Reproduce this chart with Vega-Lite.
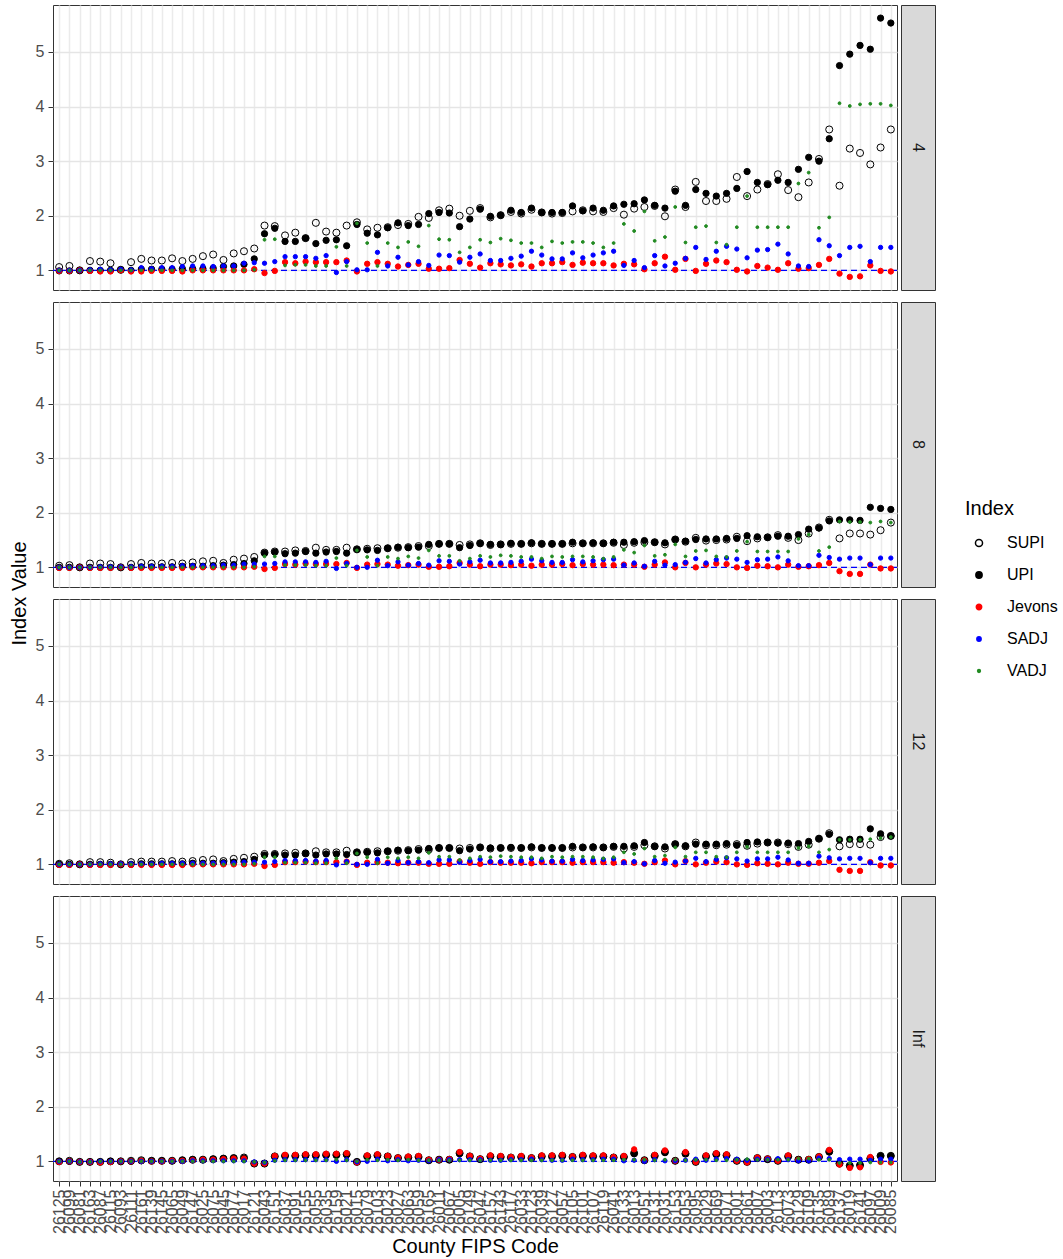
{
  "$schema": "https://vega.github.io/schema/vega-lite/v6.json",
  "padding": {"left": 8, "top": 4, "right": 5, "bottom": 1},
  "background": "white",
  "spacing": 0,
  "config": {
    "font": "Liberation Sans",
    "view": {"stroke": "#333333", "strokeWidth": 1},
    "axis": {"labelFont": "Liberation Sans", "titleFont": "Liberation Sans", "titleFontWeight": "normal", "titleColor": "black", "labelColor": "#4d4d4d", "tickColor": "#333333", "domain": false, "labelFontSize": 16, "titleFontSize": 20},
    "legend": {"labelFont": "Liberation Sans", "titleFont": "Liberation Sans"}
  },
  "datasets": {
    "idx": [
      {"c":"26125","h":"4","SUPI":1.06,"UPI":0.99,"Jevons":0.99,"SADJ":1.0,"VADJ":1.0},
      {"c":"26099","h":"4","SUPI":1.08,"UPI":0.99,"Jevons":0.99,"SADJ":1.0,"VADJ":1.0},
      {"c":"26081","h":"4","SUPI":1.0,"UPI":1.0,"Jevons":1.0,"SADJ":1.0,"VADJ":1.0},
      {"c":"26163","h":"4","SUPI":1.17,"UPI":1.0,"Jevons":0.99,"SADJ":1.01,"VADJ":1.0},
      {"c":"26087","h":"4","SUPI":1.16,"UPI":1.0,"Jevons":0.98,"SADJ":1.02,"VADJ":1.0},
      {"c":"26115","h":"4","SUPI":1.13,"UPI":1.0,"Jevons":0.98,"SADJ":1.01,"VADJ":1.0},
      {"c":"26093","h":"4","SUPI":1.01,"UPI":1.01,"Jevons":1.0,"SADJ":1.02,"VADJ":1.0},
      {"c":"26111","h":"4","SUPI":1.15,"UPI":1.0,"Jevons":0.98,"SADJ":1.01,"VADJ":1.0},
      {"c":"26161","h":"4","SUPI":1.21,"UPI":1.02,"Jevons":0.98,"SADJ":1.05,"VADJ":1.0},
      {"c":"26139","h":"4","SUPI":1.18,"UPI":1.02,"Jevons":0.99,"SADJ":1.03,"VADJ":1.0},
      {"c":"26145","h":"4","SUPI":1.18,"UPI":1.02,"Jevons":0.99,"SADJ":1.05,"VADJ":1.0},
      {"c":"26065","h":"4","SUPI":1.22,"UPI":1.02,"Jevons":0.99,"SADJ":1.05,"VADJ":1.0},
      {"c":"26049","h":"4","SUPI":1.17,"UPI":1.03,"Jevons":0.98,"SADJ":1.07,"VADJ":1.0},
      {"c":"26147","h":"4","SUPI":1.21,"UPI":1.03,"Jevons":1.0,"SADJ":1.08,"VADJ":1.0},
      {"c":"26025","h":"4","SUPI":1.26,"UPI":1.03,"Jevons":1.0,"SADJ":1.08,"VADJ":1.0},
      {"c":"26075","h":"4","SUPI":1.29,"UPI":1.04,"Jevons":1.0,"SADJ":1.07,"VADJ":1.0},
      {"c":"26045","h":"4","SUPI":1.19,"UPI":1.07,"Jevons":1.0,"SADJ":1.08,"VADJ":1.0},
      {"c":"26077","h":"4","SUPI":1.31,"UPI":1.08,"Jevons":1.0,"SADJ":1.08,"VADJ":1.0},
      {"c":"26017","h":"4","SUPI":1.35,"UPI":1.11,"Jevons":1.0,"SADJ":1.13,"VADJ":1.0},
      {"c":"26121","h":"4","SUPI":1.4,"UPI":1.21,"Jevons":1.02,"SADJ":1.14,"VADJ":1.01},
      {"c":"26043","h":"4","SUPI":1.82,"UPI":1.67,"Jevons":0.95,"SADJ":1.13,"VADJ":1.56},
      {"c":"26151","h":"4","SUPI":1.81,"UPI":1.77,"Jevons":0.99,"SADJ":1.16,"VADJ":1.57},
      {"c":"26037","h":"4","SUPI":1.64,"UPI":1.53,"Jevons":1.15,"SADJ":1.25,"VADJ":1.09},
      {"c":"26091","h":"4","SUPI":1.69,"UPI":1.53,"Jevons":1.13,"SADJ":1.25,"VADJ":1.1},
      {"c":"26155","h":"4","SUPI":1.59,"UPI":1.59,"Jevons":1.16,"SADJ":1.25,"VADJ":1.1},
      {"c":"26055","h":"4","SUPI":1.87,"UPI":1.49,"Jevons":1.15,"SADJ":1.22,"VADJ":1.08},
      {"c":"26035","h":"4","SUPI":1.71,"UPI":1.55,"Jevons":1.15,"SADJ":1.27,"VADJ":1.08},
      {"c":"26159","h":"4","SUPI":1.69,"UPI":1.56,"Jevons":1.15,"SADJ":0.96,"VADJ":1.43},
      {"c":"26021","h":"4","SUPI":1.82,"UPI":1.45,"Jevons":1.18,"SADJ":1.16,"VADJ":1.08},
      {"c":"26015","h":"4","SUPI":1.88,"UPI":1.84,"Jevons":0.98,"SADJ":1.01,"VADJ":1.86},
      {"c":"26079","h":"4","SUPI":1.75,"UPI":1.68,"Jevons":1.12,"SADJ":1.01,"VADJ":1.5},
      {"c":"26103","h":"4","SUPI":1.78,"UPI":1.65,"Jevons":1.15,"SADJ":1.33,"VADJ":1.08},
      {"c":"26023","h":"4","SUPI":1.79,"UPI":1.78,"Jevons":1.12,"SADJ":1.08,"VADJ":1.5},
      {"c":"26027","h":"4","SUPI":1.83,"UPI":1.87,"Jevons":1.07,"SADJ":1.24,"VADJ":1.42},
      {"c":"26063","h":"4","SUPI":1.85,"UPI":1.82,"Jevons":1.1,"SADJ":1.1,"VADJ":1.52},
      {"c":"26059","h":"4","SUPI":1.98,"UPI":1.84,"Jevons":1.12,"SADJ":1.16,"VADJ":1.44},
      {"c":"26165","h":"4","SUPI":1.96,"UPI":2.04,"Jevons":1.03,"SADJ":1.09,"VADJ":1.82},
      {"c":"26011","h":"4","SUPI":2.1,"UPI":2.06,"Jevons":1.03,"SADJ":1.28,"VADJ":1.57},
      {"c":"26067","h":"4","SUPI":2.13,"UPI":2.05,"Jevons":1.04,"SADJ":1.27,"VADJ":1.56},
      {"c":"26005","h":"4","SUPI":2.0,"UPI":1.8,"Jevons":1.19,"SADJ":1.15,"VADJ":1.33},
      {"c":"26149","h":"4","SUPI":2.09,"UPI":1.94,"Jevons":1.12,"SADJ":1.24,"VADJ":1.42},
      {"c":"26047","h":"4","SUPI":2.14,"UPI":2.12,"Jevons":1.05,"SADJ":1.3,"VADJ":1.56},
      {"c":"26157","h":"4","SUPI":1.97,"UPI":1.99,"Jevons":1.13,"SADJ":1.18,"VADJ":1.51},
      {"c":"26143","h":"4","SUPI":2.01,"UPI":2.01,"Jevons":1.11,"SADJ":1.18,"VADJ":1.58},
      {"c":"26117","h":"4","SUPI":2.07,"UPI":2.1,"Jevons":1.09,"SADJ":1.22,"VADJ":1.55},
      {"c":"26033","h":"4","SUPI":2.04,"UPI":2.06,"Jevons":1.11,"SADJ":1.26,"VADJ":1.5},
      {"c":"26123","h":"4","SUPI":2.11,"UPI":2.14,"Jevons":1.07,"SADJ":1.35,"VADJ":1.5},
      {"c":"26039","h":"4","SUPI":2.06,"UPI":2.06,"Jevons":1.13,"SADJ":1.28,"VADJ":1.42},
      {"c":"26127","h":"4","SUPI":2.04,"UPI":2.06,"Jevons":1.13,"SADJ":1.21,"VADJ":1.53},
      {"c":"26057","h":"4","SUPI":2.05,"UPI":2.06,"Jevons":1.15,"SADJ":1.21,"VADJ":1.5},
      {"c":"26105","h":"4","SUPI":2.08,"UPI":2.18,"Jevons":1.1,"SADJ":1.32,"VADJ":1.52},
      {"c":"26101","h":"4","SUPI":2.1,"UPI":2.09,"Jevons":1.14,"SADJ":1.23,"VADJ":1.52},
      {"c":"26107","h":"4","SUPI":2.08,"UPI":2.14,"Jevons":1.13,"SADJ":1.28,"VADJ":1.5},
      {"c":"26119","h":"4","SUPI":2.07,"UPI":2.1,"Jevons":1.13,"SADJ":1.32,"VADJ":1.42},
      {"c":"26041","h":"4","SUPI":2.14,"UPI":2.18,"Jevons":1.09,"SADJ":1.35,"VADJ":1.5},
      {"c":"26133","h":"4","SUPI":2.02,"UPI":2.21,"Jevons":1.12,"SADJ":1.09,"VADJ":1.85},
      {"c":"26013","h":"4","SUPI":2.13,"UPI":2.22,"Jevons":1.11,"SADJ":1.18,"VADJ":1.72},
      {"c":"26051","h":"4","SUPI":2.16,"UPI":2.29,"Jevons":1.02,"SADJ":1.05,"VADJ":2.08},
      {"c":"26131","h":"4","SUPI":2.18,"UPI":2.19,"Jevons":1.13,"SADJ":1.27,"VADJ":1.54},
      {"c":"26031","h":"4","SUPI":1.99,"UPI":2.14,"Jevons":1.25,"SADJ":1.08,"VADJ":1.61},
      {"c":"26153","h":"4","SUPI":2.48,"UPI":2.45,"Jevons":1.01,"SADJ":1.13,"VADJ":2.16},
      {"c":"26053","h":"4","SUPI":2.16,"UPI":2.19,"Jevons":1.21,"SADJ":1.22,"VADJ":1.51},
      {"c":"26095","h":"4","SUPI":2.62,"UPI":2.48,"Jevons":0.99,"SADJ":1.42,"VADJ":1.79},
      {"c":"26029","h":"4","SUPI":2.27,"UPI":2.41,"Jevons":1.12,"SADJ":1.2,"VADJ":1.81},
      {"c":"26069","h":"4","SUPI":2.27,"UPI":2.36,"Jevons":1.18,"SADJ":1.35,"VADJ":1.51},
      {"c":"26071","h":"4","SUPI":2.31,"UPI":2.41,"Jevons":1.15,"SADJ":1.44,"VADJ":1.47},
      {"c":"26001","h":"4","SUPI":2.71,"UPI":2.5,"Jevons":1.01,"SADJ":1.39,"VADJ":1.79},
      {"c":"26061","h":"4","SUPI":2.36,"UPI":2.81,"Jevons":0.98,"SADJ":1.23,"VADJ":2.36},
      {"c":"26007","h":"4","SUPI":2.48,"UPI":2.61,"Jevons":1.08,"SADJ":1.37,"VADJ":1.79},
      {"c":"26003","h":"4","SUPI":2.58,"UPI":2.57,"Jevons":1.05,"SADJ":1.38,"VADJ":1.79},
      {"c":"26113","h":"4","SUPI":2.76,"UPI":2.65,"Jevons":1.01,"SADJ":1.48,"VADJ":1.79},
      {"c":"26073","h":"4","SUPI":2.47,"UPI":2.61,"Jevons":1.13,"SADJ":1.3,"VADJ":1.79},
      {"c":"26129","h":"4","SUPI":2.34,"UPI":2.85,"Jevons":1.03,"SADJ":1.08,"VADJ":2.59},
      {"c":"26109","h":"4","SUPI":2.61,"UPI":3.07,"Jevons":1.04,"SADJ":1.07,"VADJ":2.79},
      {"c":"26135","h":"4","SUPI":3.04,"UPI":3.0,"Jevons":1.1,"SADJ":1.56,"VADJ":1.78},
      {"c":"26089","h":"4","SUPI":3.58,"UPI":3.41,"Jevons":1.21,"SADJ":1.45,"VADJ":1.97},
      {"c":"26137","h":"4","SUPI":2.55,"UPI":4.75,"Jevons":0.94,"SADJ":1.27,"VADJ":4.06},
      {"c":"26019","h":"4","SUPI":3.23,"UPI":4.96,"Jevons":0.88,"SADJ":1.42,"VADJ":4.01},
      {"c":"26141","h":"4","SUPI":3.15,"UPI":5.12,"Jevons":0.89,"SADJ":1.44,"VADJ":4.04},
      {"c":"26097","h":"4","SUPI":2.94,"UPI":5.05,"Jevons":1.09,"SADJ":1.16,"VADJ":4.05},
      {"c":"26009","h":"4","SUPI":3.25,"UPI":5.62,"Jevons":0.99,"SADJ":1.42,"VADJ":4.05},
      {"c":"26085","h":"4","SUPI":3.58,"UPI":5.53,"Jevons":0.98,"SADJ":1.42,"VADJ":4.02},

      {"c":"26125","h":"8","SUPI":1.03,"UPI":1.0,"Jevons":0.99,"SADJ":1.0,"VADJ":1.0},
      {"c":"26099","h":"8","SUPI":1.04,"UPI":1.0,"Jevons":0.99,"SADJ":1.0,"VADJ":1.0},
      {"c":"26081","h":"8","SUPI":1.0,"UPI":1.0,"Jevons":1.0,"SADJ":1.0,"VADJ":1.0},
      {"c":"26163","h":"8","SUPI":1.07,"UPI":1.0,"Jevons":0.99,"SADJ":1.0,"VADJ":1.0},
      {"c":"26087","h":"8","SUPI":1.07,"UPI":1.0,"Jevons":0.99,"SADJ":1.01,"VADJ":1.0},
      {"c":"26115","h":"8","SUPI":1.06,"UPI":1.0,"Jevons":0.99,"SADJ":1.01,"VADJ":1.0},
      {"c":"26093","h":"8","SUPI":1.0,"UPI":1.0,"Jevons":1.0,"SADJ":1.01,"VADJ":1.0},
      {"c":"26111","h":"8","SUPI":1.06,"UPI":1.0,"Jevons":0.99,"SADJ":1.01,"VADJ":1.0},
      {"c":"26161","h":"8","SUPI":1.08,"UPI":1.01,"Jevons":0.99,"SADJ":1.02,"VADJ":1.0},
      {"c":"26139","h":"8","SUPI":1.07,"UPI":1.01,"Jevons":0.99,"SADJ":1.02,"VADJ":1.0},
      {"c":"26145","h":"8","SUPI":1.07,"UPI":1.01,"Jevons":0.99,"SADJ":1.02,"VADJ":1.0},
      {"c":"26065","h":"8","SUPI":1.08,"UPI":1.01,"Jevons":0.99,"SADJ":1.02,"VADJ":1.0},
      {"c":"26049","h":"8","SUPI":1.07,"UPI":1.02,"Jevons":0.99,"SADJ":1.03,"VADJ":1.0},
      {"c":"26147","h":"8","SUPI":1.09,"UPI":1.02,"Jevons":1.0,"SADJ":1.03,"VADJ":1.0},
      {"c":"26025","h":"8","SUPI":1.11,"UPI":1.02,"Jevons":1.0,"SADJ":1.03,"VADJ":1.0},
      {"c":"26075","h":"8","SUPI":1.12,"UPI":1.03,"Jevons":1.0,"SADJ":1.03,"VADJ":1.0},
      {"c":"26045","h":"8","SUPI":1.08,"UPI":1.04,"Jevons":1.0,"SADJ":1.04,"VADJ":1.0},
      {"c":"26077","h":"8","SUPI":1.14,"UPI":1.05,"Jevons":1.0,"SADJ":1.04,"VADJ":1.0},
      {"c":"26017","h":"8","SUPI":1.16,"UPI":1.07,"Jevons":1.0,"SADJ":1.06,"VADJ":1.0},
      {"c":"26121","h":"8","SUPI":1.19,"UPI":1.12,"Jevons":1.01,"SADJ":1.06,"VADJ":1.01},
      {"c":"26043","h":"8","SUPI":1.27,"UPI":1.26,"Jevons":0.97,"SADJ":1.06,"VADJ":1.2},
      {"c":"26151","h":"8","SUPI":1.29,"UPI":1.28,"Jevons":0.99,"SADJ":1.07,"VADJ":1.2},
      {"c":"26037","h":"8","SUPI":1.29,"UPI":1.25,"Jevons":1.06,"SADJ":1.1,"VADJ":1.04},
      {"c":"26091","h":"8","SUPI":1.31,"UPI":1.26,"Jevons":1.05,"SADJ":1.1,"VADJ":1.04},
      {"c":"26155","h":"8","SUPI":1.3,"UPI":1.29,"Jevons":1.07,"SADJ":1.1,"VADJ":1.04},
      {"c":"26055","h":"8","SUPI":1.36,"UPI":1.26,"Jevons":1.06,"SADJ":1.09,"VADJ":1.03},
      {"c":"26035","h":"8","SUPI":1.32,"UPI":1.28,"Jevons":1.06,"SADJ":1.11,"VADJ":1.03},
      {"c":"26159","h":"8","SUPI":1.32,"UPI":1.29,"Jevons":1.06,"SADJ":0.98,"VADJ":1.17},
      {"c":"26021","h":"8","SUPI":1.36,"UPI":1.26,"Jevons":1.08,"SADJ":1.07,"VADJ":1.03},
      {"c":"26015","h":"8","SUPI":1.33,"UPI":1.33,"Jevons":0.99,"SADJ":1.0,"VADJ":1.31},
      {"c":"26079","h":"8","SUPI":1.34,"UPI":1.32,"Jevons":1.05,"SADJ":1.0,"VADJ":1.19},
      {"c":"26103","h":"8","SUPI":1.35,"UPI":1.31,"Jevons":1.06,"SADJ":1.13,"VADJ":1.03},
      {"c":"26023","h":"8","SUPI":1.35,"UPI":1.35,"Jevons":1.05,"SADJ":1.03,"VADJ":1.19},
      {"c":"26027","h":"8","SUPI":1.36,"UPI":1.37,"Jevons":1.03,"SADJ":1.1,"VADJ":1.16},
      {"c":"26063","h":"8","SUPI":1.37,"UPI":1.36,"Jevons":1.04,"SADJ":1.04,"VADJ":1.2},
      {"c":"26059","h":"8","SUPI":1.39,"UPI":1.37,"Jevons":1.05,"SADJ":1.07,"VADJ":1.17},
      {"c":"26165","h":"8","SUPI":1.39,"UPI":1.42,"Jevons":1.01,"SADJ":1.04,"VADJ":1.31},
      {"c":"26011","h":"8","SUPI":1.43,"UPI":1.43,"Jevons":1.01,"SADJ":1.12,"VADJ":1.21},
      {"c":"26067","h":"8","SUPI":1.43,"UPI":1.43,"Jevons":1.02,"SADJ":1.11,"VADJ":1.21},
      {"c":"26005","h":"8","SUPI":1.41,"UPI":1.36,"Jevons":1.08,"SADJ":1.06,"VADJ":1.12},
      {"c":"26149","h":"8","SUPI":1.42,"UPI":1.4,"Jevons":1.05,"SADJ":1.1,"VADJ":1.16},
      {"c":"26047","h":"8","SUPI":1.44,"UPI":1.44,"Jevons":1.02,"SADJ":1.13,"VADJ":1.21},
      {"c":"26157","h":"8","SUPI":1.41,"UPI":1.42,"Jevons":1.05,"SADJ":1.08,"VADJ":1.19},
      {"c":"26143","h":"8","SUPI":1.42,"UPI":1.42,"Jevons":1.05,"SADJ":1.08,"VADJ":1.22},
      {"c":"26117","h":"8","SUPI":1.43,"UPI":1.44,"Jevons":1.04,"SADJ":1.09,"VADJ":1.21},
      {"c":"26033","h":"8","SUPI":1.43,"UPI":1.43,"Jevons":1.05,"SADJ":1.11,"VADJ":1.19},
      {"c":"26123","h":"8","SUPI":1.44,"UPI":1.45,"Jevons":1.03,"SADJ":1.15,"VADJ":1.19},
      {"c":"26039","h":"8","SUPI":1.43,"UPI":1.43,"Jevons":1.05,"SADJ":1.12,"VADJ":1.16},
      {"c":"26127","h":"8","SUPI":1.43,"UPI":1.43,"Jevons":1.05,"SADJ":1.09,"VADJ":1.2},
      {"c":"26057","h":"8","SUPI":1.43,"UPI":1.43,"Jevons":1.06,"SADJ":1.09,"VADJ":1.19},
      {"c":"26105","h":"8","SUPI":1.44,"UPI":1.46,"Jevons":1.04,"SADJ":1.14,"VADJ":1.2},
      {"c":"26101","h":"8","SUPI":1.44,"UPI":1.44,"Jevons":1.06,"SADJ":1.1,"VADJ":1.2},
      {"c":"26107","h":"8","SUPI":1.44,"UPI":1.45,"Jevons":1.05,"SADJ":1.12,"VADJ":1.19},
      {"c":"26119","h":"8","SUPI":1.44,"UPI":1.44,"Jevons":1.05,"SADJ":1.14,"VADJ":1.16},
      {"c":"26041","h":"8","SUPI":1.45,"UPI":1.46,"Jevons":1.04,"SADJ":1.15,"VADJ":1.19},
      {"c":"26133","h":"8","SUPI":1.41,"UPI":1.46,"Jevons":1.05,"SADJ":1.04,"VADJ":1.32},
      {"c":"26013","h":"8","SUPI":1.45,"UPI":1.47,"Jevons":1.05,"SADJ":1.08,"VADJ":1.27},
      {"c":"26051","h":"8","SUPI":1.46,"UPI":1.49,"Jevons":1.01,"SADJ":1.02,"VADJ":1.4},
      {"c":"26131","h":"8","SUPI":1.46,"UPI":1.46,"Jevons":1.05,"SADJ":1.11,"VADJ":1.21},
      {"c":"26031","h":"8","SUPI":1.42,"UPI":1.45,"Jevons":1.09,"SADJ":1.04,"VADJ":1.23},
      {"c":"26153","h":"8","SUPI":1.51,"UPI":1.51,"Jevons":1.0,"SADJ":1.05,"VADJ":1.42},
      {"c":"26053","h":"8","SUPI":1.47,"UPI":1.48,"Jevons":1.08,"SADJ":1.09,"VADJ":1.2},
      {"c":"26095","h":"8","SUPI":1.54,"UPI":1.51,"Jevons":1.0,"SADJ":1.16,"VADJ":1.3},
      {"c":"26029","h":"8","SUPI":1.49,"UPI":1.52,"Jevons":1.05,"SADJ":1.08,"VADJ":1.31},
      {"c":"26069","h":"8","SUPI":1.5,"UPI":1.52,"Jevons":1.07,"SADJ":1.14,"VADJ":1.2},
      {"c":"26071","h":"8","SUPI":1.51,"UPI":1.53,"Jevons":1.06,"SADJ":1.17,"VADJ":1.19},
      {"c":"26001","h":"8","SUPI":1.56,"UPI":1.53,"Jevons":1.0,"SADJ":1.15,"VADJ":1.3},
      {"c":"26061","h":"8","SUPI":1.48,"UPI":1.58,"Jevons":0.99,"SADJ":1.09,"VADJ":1.47},
      {"c":"26007","h":"8","SUPI":1.53,"UPI":1.56,"Jevons":1.03,"SADJ":1.14,"VADJ":1.29},
      {"c":"26003","h":"8","SUPI":1.55,"UPI":1.55,"Jevons":1.02,"SADJ":1.15,"VADJ":1.29},
      {"c":"26113","h":"8","SUPI":1.59,"UPI":1.57,"Jevons":1.0,"SADJ":1.19,"VADJ":1.29},
      {"c":"26073","h":"8","SUPI":1.54,"UPI":1.57,"Jevons":1.05,"SADJ":1.12,"VADJ":1.29},
      {"c":"26129","h":"8","SUPI":1.5,"UPI":1.6,"Jevons":1.01,"SADJ":1.03,"VADJ":1.52},
      {"c":"26109","h":"8","SUPI":1.62,"UPI":1.7,"Jevons":1.02,"SADJ":1.03,"VADJ":1.6},
      {"c":"26135","h":"8","SUPI":1.73,"UPI":1.72,"Jevons":1.04,"SADJ":1.22,"VADJ":1.3},
      {"c":"26089","h":"8","SUPI":1.87,"UPI":1.85,"Jevons":1.08,"SADJ":1.18,"VADJ":1.37},
      {"c":"26137","h":"8","SUPI":1.53,"UPI":1.87,"Jevons":0.93,"SADJ":1.15,"VADJ":1.84},
      {"c":"26019","h":"8","SUPI":1.62,"UPI":1.87,"Jevons":0.88,"SADJ":1.17,"VADJ":1.83},
      {"c":"26141","h":"8","SUPI":1.62,"UPI":1.86,"Jevons":0.88,"SADJ":1.17,"VADJ":1.83},
      {"c":"26097","h":"8","SUPI":1.6,"UPI":2.1,"Jevons":1.05,"SADJ":1.05,"VADJ":1.82},
      {"c":"26009","h":"8","SUPI":1.68,"UPI":2.08,"Jevons":0.98,"SADJ":1.17,"VADJ":1.84},
      {"c":"26085","h":"8","SUPI":1.82,"UPI":2.06,"Jevons":0.98,"SADJ":1.17,"VADJ":1.82},

      {"c":"26125","h":"12","SUPI":1.01,"UPI":1.0,"Jevons":0.99,"SADJ":1.0,"VADJ":1.0},
      {"c":"26099","h":"12","SUPI":1.02,"UPI":1.0,"Jevons":0.99,"SADJ":1.0,"VADJ":1.0},
      {"c":"26081","h":"12","SUPI":1.0,"UPI":1.0,"Jevons":1.0,"SADJ":1.0,"VADJ":1.0},
      {"c":"26163","h":"12","SUPI":1.04,"UPI":1.0,"Jevons":0.99,"SADJ":1.0,"VADJ":1.0},
      {"c":"26087","h":"12","SUPI":1.04,"UPI":1.0,"Jevons":0.99,"SADJ":1.01,"VADJ":1.0},
      {"c":"26115","h":"12","SUPI":1.03,"UPI":1.0,"Jevons":0.99,"SADJ":1.01,"VADJ":1.0},
      {"c":"26093","h":"12","SUPI":1.0,"UPI":1.0,"Jevons":1.0,"SADJ":1.01,"VADJ":1.0},
      {"c":"26111","h":"12","SUPI":1.04,"UPI":1.0,"Jevons":0.99,"SADJ":1.01,"VADJ":1.0},
      {"c":"26161","h":"12","SUPI":1.05,"UPI":1.01,"Jevons":0.99,"SADJ":1.01,"VADJ":1.0},
      {"c":"26139","h":"12","SUPI":1.05,"UPI":1.01,"Jevons":0.99,"SADJ":1.01,"VADJ":1.0},
      {"c":"26145","h":"12","SUPI":1.05,"UPI":1.01,"Jevons":0.99,"SADJ":1.02,"VADJ":1.0},
      {"c":"26065","h":"12","SUPI":1.06,"UPI":1.01,"Jevons":0.99,"SADJ":1.02,"VADJ":1.0},
      {"c":"26049","h":"12","SUPI":1.05,"UPI":1.01,"Jevons":0.99,"SADJ":1.02,"VADJ":1.0},
      {"c":"26147","h":"12","SUPI":1.06,"UPI":1.02,"Jevons":1.0,"SADJ":1.02,"VADJ":1.0},
      {"c":"26025","h":"12","SUPI":1.08,"UPI":1.02,"Jevons":1.0,"SADJ":1.02,"VADJ":1.0},
      {"c":"26075","h":"12","SUPI":1.09,"UPI":1.02,"Jevons":1.0,"SADJ":1.02,"VADJ":1.0},
      {"c":"26045","h":"12","SUPI":1.06,"UPI":1.03,"Jevons":1.0,"SADJ":1.03,"VADJ":1.0},
      {"c":"26077","h":"12","SUPI":1.1,"UPI":1.04,"Jevons":1.0,"SADJ":1.03,"VADJ":1.0},
      {"c":"26017","h":"12","SUPI":1.12,"UPI":1.05,"Jevons":1.0,"SADJ":1.04,"VADJ":1.0},
      {"c":"26121","h":"12","SUPI":1.14,"UPI":1.09,"Jevons":1.01,"SADJ":1.04,"VADJ":1.01},
      {"c":"26043","h":"12","SUPI":1.19,"UPI":1.17,"Jevons":0.97,"SADJ":1.04,"VADJ":1.13},
      {"c":"26151","h":"12","SUPI":1.19,"UPI":1.18,"Jevons":0.99,"SADJ":1.05,"VADJ":1.13},
      {"c":"26037","h":"12","SUPI":1.2,"UPI":1.17,"Jevons":1.04,"SADJ":1.07,"VADJ":1.03},
      {"c":"26091","h":"12","SUPI":1.21,"UPI":1.17,"Jevons":1.04,"SADJ":1.07,"VADJ":1.03},
      {"c":"26155","h":"12","SUPI":1.2,"UPI":1.2,"Jevons":1.05,"SADJ":1.07,"VADJ":1.03},
      {"c":"26055","h":"12","SUPI":1.24,"UPI":1.17,"Jevons":1.04,"SADJ":1.06,"VADJ":1.02},
      {"c":"26035","h":"12","SUPI":1.22,"UPI":1.19,"Jevons":1.04,"SADJ":1.07,"VADJ":1.02},
      {"c":"26159","h":"12","SUPI":1.22,"UPI":1.19,"Jevons":1.04,"SADJ":0.99,"VADJ":1.11},
      {"c":"26021","h":"12","SUPI":1.25,"UPI":1.18,"Jevons":1.05,"SADJ":1.05,"VADJ":1.02},
      {"c":"26015","h":"12","SUPI":1.22,"UPI":1.22,"Jevons":0.99,"SADJ":1.0,"VADJ":1.2},
      {"c":"26079","h":"12","SUPI":1.23,"UPI":1.22,"Jevons":1.03,"SADJ":1.0,"VADJ":1.13},
      {"c":"26103","h":"12","SUPI":1.24,"UPI":1.21,"Jevons":1.04,"SADJ":1.09,"VADJ":1.02},
      {"c":"26023","h":"12","SUPI":1.24,"UPI":1.24,"Jevons":1.03,"SADJ":1.02,"VADJ":1.13},
      {"c":"26027","h":"12","SUPI":1.25,"UPI":1.26,"Jevons":1.02,"SADJ":1.07,"VADJ":1.11},
      {"c":"26063","h":"12","SUPI":1.26,"UPI":1.25,"Jevons":1.03,"SADJ":1.03,"VADJ":1.13},
      {"c":"26059","h":"12","SUPI":1.28,"UPI":1.26,"Jevons":1.03,"SADJ":1.05,"VADJ":1.11},
      {"c":"26165","h":"12","SUPI":1.27,"UPI":1.29,"Jevons":1.01,"SADJ":1.03,"VADJ":1.21},
      {"c":"26011","h":"12","SUPI":1.3,"UPI":1.3,"Jevons":1.01,"SADJ":1.08,"VADJ":1.14},
      {"c":"26067","h":"12","SUPI":1.3,"UPI":1.3,"Jevons":1.01,"SADJ":1.08,"VADJ":1.14},
      {"c":"26005","h":"12","SUPI":1.29,"UPI":1.25,"Jevons":1.05,"SADJ":1.04,"VADJ":1.08},
      {"c":"26149","h":"12","SUPI":1.3,"UPI":1.28,"Jevons":1.03,"SADJ":1.07,"VADJ":1.11},
      {"c":"26047","h":"12","SUPI":1.31,"UPI":1.31,"Jevons":1.01,"SADJ":1.09,"VADJ":1.14},
      {"c":"26157","h":"12","SUPI":1.29,"UPI":1.3,"Jevons":1.04,"SADJ":1.05,"VADJ":1.13},
      {"c":"26143","h":"12","SUPI":1.3,"UPI":1.3,"Jevons":1.03,"SADJ":1.05,"VADJ":1.15},
      {"c":"26117","h":"12","SUPI":1.3,"UPI":1.31,"Jevons":1.03,"SADJ":1.06,"VADJ":1.14},
      {"c":"26033","h":"12","SUPI":1.3,"UPI":1.3,"Jevons":1.03,"SADJ":1.07,"VADJ":1.13},
      {"c":"26123","h":"12","SUPI":1.31,"UPI":1.32,"Jevons":1.02,"SADJ":1.1,"VADJ":1.13},
      {"c":"26039","h":"12","SUPI":1.3,"UPI":1.3,"Jevons":1.04,"SADJ":1.08,"VADJ":1.11},
      {"c":"26127","h":"12","SUPI":1.3,"UPI":1.3,"Jevons":1.04,"SADJ":1.06,"VADJ":1.14},
      {"c":"26057","h":"12","SUPI":1.3,"UPI":1.3,"Jevons":1.04,"SADJ":1.06,"VADJ":1.13},
      {"c":"26105","h":"12","SUPI":1.31,"UPI":1.33,"Jevons":1.03,"SADJ":1.09,"VADJ":1.14},
      {"c":"26101","h":"12","SUPI":1.31,"UPI":1.31,"Jevons":1.04,"SADJ":1.07,"VADJ":1.14},
      {"c":"26107","h":"12","SUPI":1.31,"UPI":1.32,"Jevons":1.04,"SADJ":1.08,"VADJ":1.13},
      {"c":"26119","h":"12","SUPI":1.31,"UPI":1.31,"Jevons":1.04,"SADJ":1.09,"VADJ":1.11},
      {"c":"26041","h":"12","SUPI":1.32,"UPI":1.33,"Jevons":1.03,"SADJ":1.1,"VADJ":1.13},
      {"c":"26133","h":"12","SUPI":1.29,"UPI":1.33,"Jevons":1.04,"SADJ":1.03,"VADJ":1.22},
      {"c":"26013","h":"12","SUPI":1.32,"UPI":1.34,"Jevons":1.03,"SADJ":1.05,"VADJ":1.19},
      {"c":"26051","h":"12","SUPI":1.35,"UPI":1.4,"Jevons":1.01,"SADJ":1.01,"VADJ":1.29},
      {"c":"26131","h":"12","SUPI":1.33,"UPI":1.33,"Jevons":1.04,"SADJ":1.07,"VADJ":1.14},
      {"c":"26031","h":"12","SUPI":1.29,"UPI":1.32,"Jevons":1.07,"SADJ":1.02,"VADJ":1.16},
      {"c":"26153","h":"12","SUPI":1.37,"UPI":1.37,"Jevons":1.0,"SADJ":1.04,"VADJ":1.31},
      {"c":"26053","h":"12","SUPI":1.33,"UPI":1.34,"Jevons":1.06,"SADJ":1.06,"VADJ":1.14},
      {"c":"26095","h":"12","SUPI":1.4,"UPI":1.37,"Jevons":1.0,"SADJ":1.11,"VADJ":1.22},
      {"c":"26029","h":"12","SUPI":1.35,"UPI":1.37,"Jevons":1.03,"SADJ":1.05,"VADJ":1.22},
      {"c":"26069","h":"12","SUPI":1.35,"UPI":1.37,"Jevons":1.05,"SADJ":1.09,"VADJ":1.14},
      {"c":"26071","h":"12","SUPI":1.36,"UPI":1.38,"Jevons":1.04,"SADJ":1.12,"VADJ":1.13},
      {"c":"26001","h":"12","SUPI":1.37,"UPI":1.35,"Jevons":1.0,"SADJ":1.1,"VADJ":1.22},
      {"c":"26061","h":"12","SUPI":1.34,"UPI":1.4,"Jevons":0.99,"SADJ":1.06,"VADJ":1.32},
      {"c":"26007","h":"12","SUPI":1.38,"UPI":1.41,"Jevons":1.02,"SADJ":1.1,"VADJ":1.22},
      {"c":"26003","h":"12","SUPI":1.4,"UPI":1.4,"Jevons":1.01,"SADJ":1.1,"VADJ":1.22},
      {"c":"26113","h":"12","SUPI":1.4,"UPI":1.39,"Jevons":1.0,"SADJ":1.13,"VADJ":1.22},
      {"c":"26073","h":"12","SUPI":1.37,"UPI":1.39,"Jevons":1.03,"SADJ":1.08,"VADJ":1.22},
      {"c":"26129","h":"12","SUPI":1.32,"UPI":1.38,"Jevons":1.01,"SADJ":1.02,"VADJ":1.3},
      {"c":"26109","h":"12","SUPI":1.36,"UPI":1.42,"Jevons":1.01,"SADJ":1.02,"VADJ":1.33},
      {"c":"26135","h":"12","SUPI":1.47,"UPI":1.47,"Jevons":1.03,"SADJ":1.15,"VADJ":1.22},
      {"c":"26089","h":"12","SUPI":1.57,"UPI":1.55,"Jevons":1.06,"SADJ":1.12,"VADJ":1.27},
      {"c":"26137","h":"12","SUPI":1.33,"UPI":1.45,"Jevons":0.9,"SADJ":1.1,"VADJ":1.45},
      {"c":"26019","h":"12","SUPI":1.37,"UPI":1.46,"Jevons":0.88,"SADJ":1.11,"VADJ":1.45},
      {"c":"26141","h":"12","SUPI":1.37,"UPI":1.46,"Jevons":0.88,"SADJ":1.11,"VADJ":1.45},
      {"c":"26097","h":"12","SUPI":1.36,"UPI":1.65,"Jevons":1.04,"SADJ":1.03,"VADJ":1.46},
      {"c":"26009","h":"12","SUPI":1.5,"UPI":1.56,"Jevons":0.98,"SADJ":1.11,"VADJ":1.48},
      {"c":"26085","h":"12","SUPI":1.52,"UPI":1.52,"Jevons":0.98,"SADJ":1.11,"VADJ":1.5},

      {"c":"26125","h":"Inf","SUPI":1.0,"UPI":1.0,"Jevons":0.99,"SADJ":1.0,"VADJ":1.0},
      {"c":"26099","h":"Inf","SUPI":1.01,"UPI":1.0,"Jevons":1.0,"SADJ":1.0,"VADJ":1.0},
      {"c":"26081","h":"Inf","SUPI":0.99,"UPI":0.99,"Jevons":0.99,"SADJ":0.99,"VADJ":0.99},
      {"c":"26163","h":"Inf","SUPI":0.99,"UPI":0.99,"Jevons":0.99,"SADJ":0.99,"VADJ":0.99},
      {"c":"26087","h":"Inf","SUPI":0.99,"UPI":0.99,"Jevons":0.98,"SADJ":1.0,"VADJ":1.0},
      {"c":"26115","h":"Inf","SUPI":1.0,"UPI":1.0,"Jevons":0.99,"SADJ":1.0,"VADJ":1.0},
      {"c":"26093","h":"Inf","SUPI":1.0,"UPI":1.0,"Jevons":1.0,"SADJ":1.0,"VADJ":1.0},
      {"c":"26111","h":"Inf","SUPI":1.01,"UPI":1.0,"Jevons":1.0,"SADJ":1.0,"VADJ":1.0},
      {"c":"26161","h":"Inf","SUPI":1.02,"UPI":1.01,"Jevons":1.01,"SADJ":1.0,"VADJ":1.0},
      {"c":"26139","h":"Inf","SUPI":1.01,"UPI":1.01,"Jevons":1.0,"SADJ":1.0,"VADJ":1.0},
      {"c":"26145","h":"Inf","SUPI":1.01,"UPI":1.01,"Jevons":1.0,"SADJ":1.0,"VADJ":1.0},
      {"c":"26065","h":"Inf","SUPI":1.01,"UPI":1.01,"Jevons":1.01,"SADJ":1.0,"VADJ":1.0},
      {"c":"26049","h":"Inf","SUPI":1.02,"UPI":1.02,"Jevons":1.01,"SADJ":1.0,"VADJ":1.0},
      {"c":"26147","h":"Inf","SUPI":1.03,"UPI":1.03,"Jevons":1.02,"SADJ":1.01,"VADJ":1.0},
      {"c":"26025","h":"Inf","SUPI":1.03,"UPI":1.03,"Jevons":1.03,"SADJ":1.01,"VADJ":1.0},
      {"c":"26075","h":"Inf","SUPI":1.04,"UPI":1.04,"Jevons":1.03,"SADJ":1.01,"VADJ":1.0},
      {"c":"26045","h":"Inf","SUPI":1.05,"UPI":1.05,"Jevons":1.04,"SADJ":1.01,"VADJ":1.0},
      {"c":"26077","h":"Inf","SUPI":1.06,"UPI":1.06,"Jevons":1.05,"SADJ":1.01,"VADJ":1.0},
      {"c":"26017","h":"Inf","SUPI":1.07,"UPI":1.06,"Jevons":1.05,"SADJ":1.01,"VADJ":1.0},
      {"c":"26121","h":"Inf","SUPI":0.96,"UPI":0.96,"Jevons":0.96,"SADJ":0.99,"VADJ":0.99},
      {"c":"26043","h":"Inf","SUPI":0.96,"UPI":0.96,"Jevons":0.96,"SADJ":0.98,"VADJ":0.98},
      {"c":"26151","h":"Inf","SUPI":1.09,"UPI":1.09,"Jevons":1.1,"SADJ":1.02,"VADJ":1.01},
      {"c":"26037","h":"Inf","SUPI":1.1,"UPI":1.1,"Jevons":1.12,"SADJ":1.03,"VADJ":1.02},
      {"c":"26091","h":"Inf","SUPI":1.1,"UPI":1.1,"Jevons":1.12,"SADJ":1.03,"VADJ":1.02},
      {"c":"26155","h":"Inf","SUPI":1.11,"UPI":1.11,"Jevons":1.13,"SADJ":1.03,"VADJ":1.02},
      {"c":"26055","h":"Inf","SUPI":1.11,"UPI":1.1,"Jevons":1.13,"SADJ":1.03,"VADJ":1.02},
      {"c":"26035","h":"Inf","SUPI":1.12,"UPI":1.11,"Jevons":1.14,"SADJ":1.03,"VADJ":1.02},
      {"c":"26159","h":"Inf","SUPI":1.12,"UPI":1.11,"Jevons":1.14,"SADJ":1.0,"VADJ":1.03},
      {"c":"26021","h":"Inf","SUPI":1.13,"UPI":1.12,"Jevons":1.15,"SADJ":1.03,"VADJ":1.02},
      {"c":"26015","h":"Inf","SUPI":0.99,"UPI":0.99,"Jevons":0.98,"SADJ":0.99,"VADJ":1.0},
      {"c":"26079","h":"Inf","SUPI":1.09,"UPI":1.09,"Jevons":1.11,"SADJ":1.0,"VADJ":1.03},
      {"c":"26103","h":"Inf","SUPI":1.11,"UPI":1.1,"Jevons":1.13,"SADJ":1.04,"VADJ":1.02},
      {"c":"26023","h":"Inf","SUPI":1.09,"UPI":1.09,"Jevons":1.1,"SADJ":1.01,"VADJ":1.03},
      {"c":"26027","h":"Inf","SUPI":1.06,"UPI":1.06,"Jevons":1.07,"SADJ":1.03,"VADJ":1.02},
      {"c":"26063","h":"Inf","SUPI":1.07,"UPI":1.07,"Jevons":1.09,"SADJ":1.01,"VADJ":1.03},
      {"c":"26059","h":"Inf","SUPI":1.08,"UPI":1.08,"Jevons":1.1,"SADJ":1.02,"VADJ":1.02},
      {"c":"26165","h":"Inf","SUPI":1.02,"UPI":1.02,"Jevons":1.03,"SADJ":1.01,"VADJ":1.02},
      {"c":"26011","h":"Inf","SUPI":1.03,"UPI":1.03,"Jevons":1.03,"SADJ":1.03,"VADJ":1.02},
      {"c":"26067","h":"Inf","SUPI":1.03,"UPI":1.03,"Jevons":1.04,"SADJ":1.03,"VADJ":1.02},
      {"c":"26005","h":"Inf","SUPI":1.15,"UPI":1.14,"Jevons":1.17,"SADJ":1.03,"VADJ":1.02},
      {"c":"26149","h":"Inf","SUPI":1.09,"UPI":1.09,"Jevons":1.1,"SADJ":1.03,"VADJ":1.02},
      {"c":"26047","h":"Inf","SUPI":1.04,"UPI":1.04,"Jevons":1.05,"SADJ":1.03,"VADJ":1.02},
      {"c":"26157","h":"Inf","SUPI":1.09,"UPI":1.09,"Jevons":1.11,"SADJ":1.02,"VADJ":1.02},
      {"c":"26143","h":"Inf","SUPI":1.08,"UPI":1.08,"Jevons":1.1,"SADJ":1.02,"VADJ":1.02},
      {"c":"26117","h":"Inf","SUPI":1.07,"UPI":1.07,"Jevons":1.08,"SADJ":1.03,"VADJ":1.02},
      {"c":"26033","h":"Inf","SUPI":1.08,"UPI":1.08,"Jevons":1.1,"SADJ":1.03,"VADJ":1.02},
      {"c":"26123","h":"Inf","SUPI":1.06,"UPI":1.06,"Jevons":1.07,"SADJ":1.04,"VADJ":1.02},
      {"c":"26039","h":"Inf","SUPI":1.09,"UPI":1.09,"Jevons":1.11,"SADJ":1.03,"VADJ":1.02},
      {"c":"26127","h":"Inf","SUPI":1.09,"UPI":1.09,"Jevons":1.11,"SADJ":1.02,"VADJ":1.02},
      {"c":"26057","h":"Inf","SUPI":1.1,"UPI":1.1,"Jevons":1.12,"SADJ":1.02,"VADJ":1.02},
      {"c":"26105","h":"Inf","SUPI":1.08,"UPI":1.08,"Jevons":1.09,"SADJ":1.04,"VADJ":1.02},
      {"c":"26101","h":"Inf","SUPI":1.1,"UPI":1.1,"Jevons":1.12,"SADJ":1.03,"VADJ":1.02},
      {"c":"26107","h":"Inf","SUPI":1.09,"UPI":1.09,"Jevons":1.11,"SADJ":1.03,"VADJ":1.02},
      {"c":"26119","h":"Inf","SUPI":1.09,"UPI":1.09,"Jevons":1.11,"SADJ":1.04,"VADJ":1.02},
      {"c":"26041","h":"Inf","SUPI":1.07,"UPI":1.07,"Jevons":1.08,"SADJ":1.04,"VADJ":1.02},
      {"c":"26133","h":"Inf","SUPI":1.08,"UPI":1.08,"Jevons":1.1,"SADJ":1.01,"VADJ":1.03},
      {"c":"26013","h":"Inf","SUPI":1.15,"UPI":1.14,"Jevons":1.22,"SADJ":1.02,"VADJ":1.03},
      {"c":"26051","h":"Inf","SUPI":1.02,"UPI":1.02,"Jevons":1.02,"SADJ":1.0,"VADJ":1.03},
      {"c":"26131","h":"Inf","SUPI":1.1,"UPI":1.1,"Jevons":1.12,"SADJ":1.03,"VADJ":1.02},
      {"c":"26031","h":"Inf","SUPI":1.17,"UPI":1.16,"Jevons":1.2,"SADJ":1.01,"VADJ":1.03},
      {"c":"26153","h":"Inf","SUPI":1.01,"UPI":1.01,"Jevons":1.01,"SADJ":1.01,"VADJ":1.03},
      {"c":"26053","h":"Inf","SUPI":1.14,"UPI":1.14,"Jevons":1.17,"SADJ":1.02,"VADJ":1.02},
      {"c":"26095","h":"Inf","SUPI":0.99,"UPI":0.99,"Jevons":0.99,"SADJ":1.04,"VADJ":1.03},
      {"c":"26029","h":"Inf","SUPI":1.09,"UPI":1.09,"Jevons":1.11,"SADJ":1.02,"VADJ":1.03},
      {"c":"26069","h":"Inf","SUPI":1.13,"UPI":1.13,"Jevons":1.15,"SADJ":1.04,"VADJ":1.02},
      {"c":"26071","h":"Inf","SUPI":1.11,"UPI":1.11,"Jevons":1.13,"SADJ":1.05,"VADJ":1.02},
      {"c":"26001","h":"Inf","SUPI":1.01,"UPI":1.01,"Jevons":1.01,"SADJ":1.04,"VADJ":1.03},
      {"c":"26061","h":"Inf","SUPI":0.99,"UPI":0.99,"Jevons":0.98,"SADJ":1.02,"VADJ":1.04},
      {"c":"26007","h":"Inf","SUPI":1.06,"UPI":1.06,"Jevons":1.07,"SADJ":1.04,"VADJ":1.03},
      {"c":"26003","h":"Inf","SUPI":1.04,"UPI":1.04,"Jevons":1.05,"SADJ":1.04,"VADJ":1.03},
      {"c":"26113","h":"Inf","SUPI":1.01,"UPI":1.01,"Jevons":1.01,"SADJ":1.05,"VADJ":1.03},
      {"c":"26073","h":"Inf","SUPI":1.09,"UPI":1.09,"Jevons":1.11,"SADJ":1.03,"VADJ":1.03},
      {"c":"26129","h":"Inf","SUPI":1.03,"UPI":1.03,"Jevons":1.03,"SADJ":1.01,"VADJ":1.05},
      {"c":"26109","h":"Inf","SUPI":1.03,"UPI":1.03,"Jevons":1.04,"SADJ":1.01,"VADJ":1.05},
      {"c":"26135","h":"Inf","SUPI":1.08,"UPI":1.08,"Jevons":1.09,"SADJ":1.06,"VADJ":1.03},
      {"c":"26089","h":"Inf","SUPI":1.18,"UPI":1.17,"Jevons":1.21,"SADJ":1.05,"VADJ":1.03},
      {"c":"26137","h":"Inf","SUPI":0.96,"UPI":0.96,"Jevons":0.94,"SADJ":1.03,"VADJ":0.97},
      {"c":"26019","h":"Inf","SUPI":0.92,"UPI":0.92,"Jevons":0.88,"SADJ":1.04,"VADJ":0.97},
      {"c":"26141","h":"Inf","SUPI":0.93,"UPI":0.93,"Jevons":0.89,"SADJ":1.04,"VADJ":0.97},
      {"c":"26097","h":"Inf","SUPI":1.05,"UPI":1.05,"Jevons":1.08,"SADJ":1.02,"VADJ":0.98},
      {"c":"26009","h":"Inf","SUPI":1.1,"UPI":1.1,"Jevons":0.99,"SADJ":1.04,"VADJ":0.98},
      {"c":"26085","h":"Inf","SUPI":1.1,"UPI":1.1,"Jevons":0.98,"SADJ":1.04,"VADJ":0.98}
    ]
  },
  "hconcat": [
    {
      "bounds": "flush",
      "spacing": 12,
      "resolve": {"scale": {"fill": "shared", "stroke": "shared", "size": "shared"}},
      "vconcat": [
        {
          "width": 844, "height": 285,
          "layer": [
            {"data": {"values": [{"v": 1}]}, "mark": {"type": "rule", "color": "blue", "strokeDash": [6, 4], "strokeWidth": 1.2}, "encoding": {"y": {"field": "v", "type": "quantitative"}}},
            {"data": {"name": "idx"},
             "transform": [{"filter": "datum.h === '4'"}, {"fold": ["SUPI", "UPI", "Jevons", "SADJ", "VADJ"], "as": ["Index", "v"]}],
             "mark": {"type": "circle", "strokeWidth": 1, "opacity": 1},
             "encoding": {
               "x": {"field": "c", "type": "nominal", "sort": null, "scale": {"type": "point", "padding": 0.6},
                     "axis": {"labels": false, "ticks": false, "title": null, "grid": true, "gridColor": "#ebebeb", "gridWidth": 1.5}},
               "y": {"field": "v", "type": "quantitative", "scale": {"domain": [0.64, 5.86], "nice": false, "zero": false},
                     "axis": {"title": null, "values": [1, 1.5, 2, 2.5, 3, 3.5, 4, 4.5, 5, 5.5], "format": "d", "labelExpr": "datum.value % 1 === 0 ? datum.label : ''", "labelPadding": 4, "tickSize": 5,
                              "gridColor": {"condition": {"test": "datum.value % 1 === 0", "value": "#e5e5e5"}, "value": "#f0f0f0"}, "gridWidth": {"condition": {"test": "datum.value % 1 === 0", "value": 1.5}, "value": 1},
                              "tickOpacity": {"condition": {"test": "datum.value % 1 === 0", "value": 1}, "value": 0}}},
               "fill": {"field": "Index", "type": "nominal", "scale": {"domain": ["SUPI", "UPI", "Jevons", "SADJ", "VADJ"], "range": ["transparent", "black", "red", "blue", "#228B22"]},
                        "legend": {"title": "Index", "orient": "none", "legendX": 912, "legendY": 494, "titleFontSize": 20, "titleFontWeight": "normal", "titleColor": "black", "labelFontSize": 16, "labelColor": "black", "rowPadding": 16, "titlePadding": 16, "labelOffset": 20, "symbolOffset": 6}},
               "stroke": {"field": "Index", "type": "nominal", "scale": {"domain": ["SUPI", "UPI", "Jevons", "SADJ", "VADJ"], "range": ["black", "black", "red", "blue", "#228B22"]}},
               "size": {"field": "Index", "type": "nominal", "scale": {"domain": ["SUPI", "UPI", "Jevons", "SADJ", "VADJ"], "range": [50, 8, 3, 3, 3]}}
             }}
          ]
        },
        {
          "width": 844, "height": 285,
          "layer": [
            {"data": {"values": [{"v": 1}]}, "mark": {"type": "rule", "color": "blue", "strokeDash": [6, 4], "strokeWidth": 1.2}, "encoding": {"y": {"field": "v", "type": "quantitative"}}},
            {"data": {"name": "idx"},
             "transform": [{"filter": "datum.h === '8'"}, {"fold": ["SUPI", "UPI", "Jevons", "SADJ", "VADJ"], "as": ["Index", "v"]}],
             "mark": {"type": "circle", "strokeWidth": 1, "opacity": 1},
             "encoding": {
               "x": {"field": "c", "type": "nominal", "sort": null, "scale": {"type": "point", "padding": 0.6},
                     "axis": {"labels": false, "ticks": false, "title": null, "grid": true, "gridColor": "#ebebeb", "gridWidth": 1.5}},
               "y": {"field": "v", "type": "quantitative", "scale": {"domain": [0.64, 5.86], "nice": false, "zero": false},
                     "axis": {"title": "Index Value", "titleY": 291, "titlePadding": 6, "values": [1, 1.5, 2, 2.5, 3, 3.5, 4, 4.5, 5, 5.5], "format": "d", "labelExpr": "datum.value % 1 === 0 ? datum.label : ''", "labelPadding": 4, "tickSize": 5,
                              "gridColor": {"condition": {"test": "datum.value % 1 === 0", "value": "#e5e5e5"}, "value": "#f0f0f0"}, "gridWidth": {"condition": {"test": "datum.value % 1 === 0", "value": 1.5}, "value": 1},
                              "tickOpacity": {"condition": {"test": "datum.value % 1 === 0", "value": 1}, "value": 0}}},
               "fill": {"field": "Index", "type": "nominal"},
               "stroke": {"field": "Index", "type": "nominal"},
               "size": {"field": "Index", "type": "nominal"}
             }}
          ]
        },
        {
          "width": 844, "height": 285,
          "layer": [
            {"data": {"values": [{"v": 1}]}, "mark": {"type": "rule", "color": "blue", "strokeDash": [6, 4], "strokeWidth": 1.2}, "encoding": {"y": {"field": "v", "type": "quantitative"}}},
            {"data": {"name": "idx"},
             "transform": [{"filter": "datum.h === '12'"}, {"fold": ["SUPI", "UPI", "Jevons", "SADJ", "VADJ"], "as": ["Index", "v"]}],
             "mark": {"type": "circle", "strokeWidth": 1, "opacity": 1},
             "encoding": {
               "x": {"field": "c", "type": "nominal", "sort": null, "scale": {"type": "point", "padding": 0.6},
                     "axis": {"labels": false, "ticks": false, "title": null, "grid": true, "gridColor": "#ebebeb", "gridWidth": 1.5}},
               "y": {"field": "v", "type": "quantitative", "scale": {"domain": [0.64, 5.86], "nice": false, "zero": false},
                     "axis": {"title": null, "values": [1, 1.5, 2, 2.5, 3, 3.5, 4, 4.5, 5, 5.5], "format": "d", "labelExpr": "datum.value % 1 === 0 ? datum.label : ''", "labelPadding": 4, "tickSize": 5,
                              "gridColor": {"condition": {"test": "datum.value % 1 === 0", "value": "#e5e5e5"}, "value": "#f0f0f0"}, "gridWidth": {"condition": {"test": "datum.value % 1 === 0", "value": 1.5}, "value": 1},
                              "tickOpacity": {"condition": {"test": "datum.value % 1 === 0", "value": 1}, "value": 0}}},
               "fill": {"field": "Index", "type": "nominal"},
               "stroke": {"field": "Index", "type": "nominal"},
               "size": {"field": "Index", "type": "nominal"}
             }}
          ]
        },
        {
          "width": 844, "height": 285,
          "layer": [
            {"data": {"values": [{"v": 1}]}, "mark": {"type": "rule", "color": "blue", "strokeDash": [6, 4], "strokeWidth": 1.2}, "encoding": {"y": {"field": "v", "type": "quantitative"}}},
            {"data": {"name": "idx"},
             "transform": [{"filter": "datum.h === 'Inf'"}, {"fold": ["SUPI", "UPI", "Jevons", "SADJ", "VADJ"], "as": ["Index", "v"]}],
             "mark": {"type": "circle", "strokeWidth": 1, "opacity": 1},
             "encoding": {
               "x": {"field": "c", "type": "nominal", "sort": null, "scale": {"type": "point", "padding": 0.6},
                     "axis": {"title": "County FIPS Code", "titlePadding": 3, "labelAngle": 270, "labelOverlap": false, "labelPadding": 3, "tickSize": 5, "grid": true, "gridColor": "#ebebeb", "gridWidth": 1.5}},
               "y": {"field": "v", "type": "quantitative", "scale": {"domain": [0.64, 5.86], "nice": false, "zero": false},
                     "axis": {"title": null, "values": [1, 1.5, 2, 2.5, 3, 3.5, 4, 4.5, 5, 5.5], "format": "d", "labelExpr": "datum.value % 1 === 0 ? datum.label : ''", "labelPadding": 4, "tickSize": 5,
                              "gridColor": {"condition": {"test": "datum.value % 1 === 0", "value": "#e5e5e5"}, "value": "#f0f0f0"}, "gridWidth": {"condition": {"test": "datum.value % 1 === 0", "value": 1.5}, "value": 1},
                              "tickOpacity": {"condition": {"test": "datum.value % 1 === 0", "value": 1}, "value": 0}}},
               "fill": {"field": "Index", "type": "nominal"},
               "stroke": {"field": "Index", "type": "nominal"},
               "size": {"field": "Index", "type": "nominal"}
             }}
          ]
        }
      ]
    },
    {
      "bounds": "flush",
      "spacing": 12,
      "vconcat": [
        {"width": 34, "height": 285, "view": {"fill": "#d9d9d9", "stroke": "#333333"}, "data": {"values": [{"lab": "4"}]},
         "mark": {"type": "text", "angle": 90, "fontSize": 16, "color": "#1a1a1a"}, "encoding": {"text": {"field": "lab"}}},
        {"width": 34, "height": 285, "view": {"fill": "#d9d9d9", "stroke": "#333333"}, "data": {"values": [{"lab": "8"}]},
         "mark": {"type": "text", "angle": 90, "fontSize": 16, "color": "#1a1a1a"}, "encoding": {"text": {"field": "lab"}}},
        {"width": 34, "height": 285, "view": {"fill": "#d9d9d9", "stroke": "#333333"}, "data": {"values": [{"lab": "12"}]},
         "mark": {"type": "text", "angle": 90, "fontSize": 16, "color": "#1a1a1a"}, "encoding": {"text": {"field": "lab"}}},
        {"width": 34, "height": 285, "view": {"fill": "#d9d9d9", "stroke": "#333333"}, "data": {"values": [{"lab": "Inf"}]},
         "mark": {"type": "text", "angle": 90, "fontSize": 16, "color": "#1a1a1a"}, "encoding": {"text": {"field": "lab"}}}
      ]
    }
  ]
}
